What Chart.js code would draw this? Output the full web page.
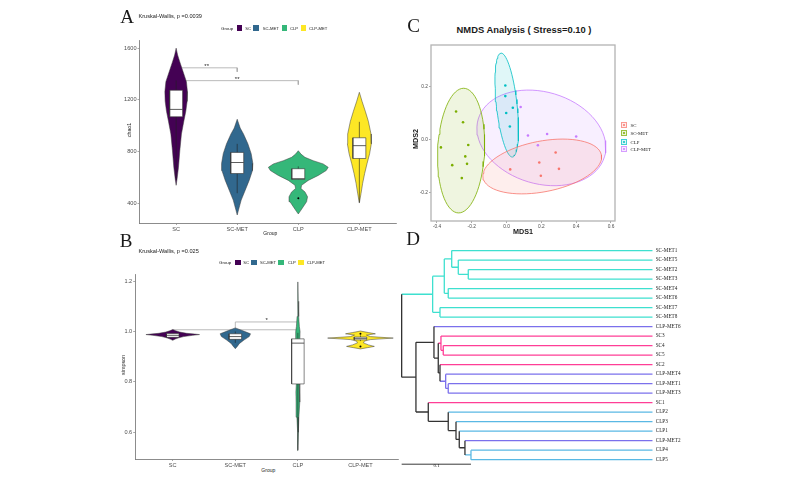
<!DOCTYPE html>
<html><head><meta charset="utf-8">
<script src="https://cdn.jsdelivr.net/npm/chart.js@4.4.1/dist/chart.umd.min.js"></script>
<style>
html,body{margin:0;padding:0;background:#fff;}
#wrap{position:relative;width:800px;height:482px;overflow:hidden;background:#fff;}
#wrap canvas{position:absolute;}
.t{position:absolute;white-space:nowrap;line-height:1;color:#1a1a1a;}
.sq{position:absolute;box-sizing:border-box;}
</style></head><body><div id="wrap"></div>
<script>
/* ================= DATA ================= */
const groups = ['SC', 'SC-MET', 'CLP', 'CLP-MET'];
const groupColors = ['#440154', '#31688E', '#35B779', '#FDE725'];

// ---- Panel A : chao1 ----
const chaoTicks = [400, 800, 1200, 1600];
const chaoLevels = [
  [1600,1547,1493,1417,1341,1265,1189,1112,1036,937,808,678,594,541],
  [1051,983,937,861,785,709,655,579,503,427,350,312],
  [808,782,757,731,706,680,655,617,579,541,516,490,452,414,376,338,320],
  [1259,1189,1112,1036,937,861,785,709,632,556,480,404]
];
const chaoDensity = [
  [0,0.05,0.123,0.233,0.343,0.377,0.367,0.323,0.257,0.177,0.123,0.077,0.033,0],
  [0,0.1,0.21,0.357,0.467,0.523,0.51,0.4,0.267,0.133,0.043,0],
  [0,0.09,0.223,0.5,0.833,1,0.933,0.667,0.333,0.11,0.09,0.223,0.31,0.277,0.167,0.057,0],
  [0,0.09,0.2,0.3,0.39,0.4,0.343,0.257,0.177,0.11,0.057,0]
];
// [lower whisker, Q1, median, Q3, upper whisker]
const chaoBox = [[580,1070,1127,1275,1350],[480,632,717,795,861],[587,587,592,669,687],[410,748,847,908,1031]];
const chaoOutliers = [[], [], [442], []];
// [group from, group to, bracket level, drop at from, drop at to, label]
const chaoBrackets = [[1,2,1448,1417,1417,'**'],[1,3,1349,1318,1318,'**']];

// ---- Panel B : simpson ----
const simpTicks = [0.6, 0.8, 1.0, 1.2];
const simpTickLabels = ['0.6', '0.8', '1.0', '1.2'];
const simpLevels = [
  [1.008,1.003,0.998,0.993,0.990,0.988,0.985,0.980,0.975,0.970,0.965],
  [1.0145,1.004,0.991,0.980,0.967,0.952,0.941,0.932],
  [1.197,1.12,1.06,1.02,1.0,0.97,0.9,0.82,0.76,0.72,0.66,0.6,0.527],
  [1.002,0.996,0.991,0.986,0.980,0.974,0.968,0.962,0.955,0.947,0.941,0.936,0.931]
];
const simpDensity = [
  [0,0.091,0.212,0.424,0.667,0.818,0.606,0.333,0.182,0.076,0],
  [0,0.212,0.464,0.424,0.273,0.121,0.061,0],
  [0,0.009,0.024,0.045,0.067,0.061,0.03,0.036,0.061,0.055,0.03,0.015,0],
  [0,0.242,0.455,0.182,0.303,1,0.303,0.121,0.091,0.242,0.424,0.212,0]
];
const simpBox = [[0.977,0.977,0.985,0.992,0.992],[0.955,0.969,0.980,0.991,1.0],[0.53,0.792,0.954,0.971,0.995],[0.962,0.967,0.973,0.978,0.985]];
const simpOutliers = [[], [], [], [0.991, 0.941]];
const simpBrackets = [[2,3,1.038,1.0145,1.007,'*'],[1,3,1.007,1.007,1.007,'']];

// ---- Panel C : NMDS ----
const nmdsGroups = ['SC', 'SC-MET', 'CLP', 'CLP-MET'];
const nmdsColors = ['#F8766D', '#7CAE00', '#00BFC4', '#C77CFF'];
const nmdsXTicks = [-0.4, -0.2, 0.0, 0.2, 0.4, 0.6];
const nmdsXLabels = ['-0.4', '-0.2', '0.0', '0.2', '0.4', '0.6'];
const nmdsYTicks = [-0.2, 0.0, 0.2];
const nmdsYLabels = ['-0.2', '0.0', '0.2'];
const nmdsSC     = [[0.282,-0.049],[0.188,-0.087],[0.301,-0.111],[0.021,-0.113],[0.197,-0.137]];
const nmdsSCMET  = [[-0.29,0.106],[-0.25,0.065],[-0.22,-0.021],[-0.377,-0.030],[-0.237,-0.064],[-0.227,-0.092],[-0.312,-0.097],[-0.257,-0.146]];
const nmdsCLP    = [[-0.007,0.204],[-0.007,0.164],[0.036,0.12],[-0.002,0.1],[0.019,0.049]];
const nmdsCLPMET = [[0.081,0.123],[0.123,0.015],[0.233,0.021],[0.4,0.011],[0.18,-0.022]];
// ellipse: [centre x, centre y, axis1 x, axis1 y, axis2 x, axis2 y]
const nmdsEllipses = [
  [0.205,-0.102, 0.340,0.0434, 0.028,-0.094],
  [-0.261,-0.042, 0.0142,0.2355, 0.1347,0],
  [0.001,0.130, -0.0332,0.1963, 0.059,0.0043],
  [0.2,0.006, 0.3625,-0.0714, -0.0756,-0.166]
];

// ---- Panel D : dendrogram ----
const leafLabels = ['SC-MET1','SC-MET5','SC-MET2','SC-MET3','SC-MET4','SC-MET6','SC-MET7','SC-MET8',
  'CLP-MET6','SC3','SC4','SC5','SC2','CLP-MET4','CLP-MET1','CLP-MET3','SC1',
  'CLP2','CLP3','CLP1','CLP-MET2','CLP4','CLP5'];
const leafDepth = 0.3622;
// merges: [child a, child b, node depth]; ids 0..22 leaves, 23.. merged nodes in order
const merges = [
  [2,3,0.0961],[1,23,0.0817],[0,24,0.0722],[4,5,0.0672],[25,26,0.0615],[6,7,0.0553],[27,28,0.0447],
  [10,11,0.0600],[9,30,0.0567],[14,15,0.0672],[13,32,0.0635],[12,33,0.0553],[31,34,0.0528],[8,35,0.0466],
  [21,22,0.1000],[20,37,0.0913],[19,38,0.0831],[18,39,0.0784],[17,40,0.0672],[16,41,0.0384],
  [36,42,0.0206],[29,43,0]
];
const dendroColors = {'SC':'#FF3E96','SC-MET':'#3EE0CF','CLP':'#5AB8E4','CLP-MET':'#7B70EC'};
const scaleBar = [0, 0.1, 22.48];

/* ================= HELPERS ================= */
const wrap = document.getElementById('wrap');
const SANS = '"Liberation Sans", Arial, sans-serif';
const SERIF = '"Liberation Serif", "Times New Roman", serif';

function T(x, y, s, font, opts = {}) {
  const d = document.createElement('div');
  d.className = 't'; d.textContent = s; d.style.font = font;
  d.style.left = x + 'px'; d.style.top = y + 'px';
  const tx = opts.align === 'left' ? '0' : '-50%';
  d.style.transform = `translate(${tx},-50%)` + (opts.rot ? ' rotate(-90deg)' : '');
  if (opts.color) d.style.color = opts.color;
  wrap.appendChild(d);
}
function SQ(x, y, w, h, css) {
  const d = document.createElement('div'); d.className = 'sq';
  d.style.left = x + 'px'; d.style.top = y + 'px'; d.style.width = w + 'px'; d.style.height = h + 'px';
  d.style.cssText += css; wrap.appendChild(d); return d;
}
function mkChart(left, top, w, h, cfg) {
  const cv = document.createElement('canvas');
  cv.width = w; cv.height = h;
  Object.assign(cv.style, {left: left + 'px', top: top + 'px', width: w + 'px', height: h + 'px'});
  wrap.appendChild(cv);
  return new Chart(cv, cfg);
}
function axis(pos, min, max, ticks, labels, size, fontSize, extra = {}) {
  const horiz = pos === 'bottom' || pos === 'top';
  return Object.assign({
    type: 'linear', position: pos, min, max,
    afterBuildTicks: s => { s.ticks = ticks.map(v => ({value: v})); },
    afterFit: s => { if (horiz) s.height = size; else s.width = size; },
    ticks: {callback: (v, i) => labels[i], font: {family: SANS, size: fontSize}, color: '#4d4d4d',
            padding: 1, autoSkip: false, maxRotation: 0, minRotation: 0},
    grid: {drawOnChartArea: false, tickLength: 2, color: '#6e6e6e', lineWidth: 0.6},
    border: {display: true, color: '#6e6e6e', width: 0.8}
  }, extra);
}
function line(data, color, w, order) {
  return {data, borderColor: color, borderWidth: w, fill: false, pointRadius: 0, order};
}
const baseOpts = {responsive: false, animation: false, events: [],
  plugins: {legend: {display: false}, tooltip: {enabled: false}},
  elements: {point: {radius: 0}, line: {tension: 0}}};

function violinPanel(levels, dens, maxHalf, box, boxHalf, outliers, brackets) {
  const ds = [];
  brackets.forEach(b => ds.push(line([{x:b[0],y:b[3]},{x:b[0],y:b[2]},{x:b[1],y:b[2]},{x:b[1],y:b[4]}], '#a8a8a8', 0.8, 6)));
  levels.forEach((lv, g) => {
    const c = g + 1;
    const r = lv.map((v, i) => ({x: c + dens[g][i] * maxHalf, y: v}));
    const l = lv.map((v, i) => ({x: c - dens[g][i] * maxHalf, y: v})).reverse();
    ds.push({data: r.concat(l, [r[0]]), borderColor: '#3a3a3a', borderWidth: 0.5,
             backgroundColor: groupColors[g], fill: 'shape', pointRadius: 0, order: 4});
    const [lo, q1, md, q3, hi] = box[g];
    ds.push(line([{x:c,y:lo},{x:c,y:hi}], '#222', 0.6, 3));
    ds.push({data: [{x:c-boxHalf,y:q1},{x:c+boxHalf,y:q1},{x:c+boxHalf,y:q3},{x:c-boxHalf,y:q3},{x:c-boxHalf,y:q1}],
             borderColor: '#333', borderWidth: 0.6, backgroundColor: '#ffffff', fill: 'shape', pointRadius: 0, order: 2});
    ds.push(line([{x:c-boxHalf,y:md},{x:c+boxHalf,y:md}], '#333', 0.8, 1));
    if (outliers[g].length) ds.push({data: outliers[g].map(v => ({x: c, y: v})), showLine: false,
             pointRadius: 1, pointBackgroundColor: '#000', pointBorderWidth: 0, order: 0});
  });
  return ds;
}
function legendRow(x0, y, pos) {
  T(pos[0], y, 'Group', `4.4px ${SANS}`, {align: 'left'});
  groups.forEach((g, i) => {
    SQ(pos[1 + i * 2], y - 2.7, 5.5, 5.5, `background:${groupColors[i]};`);
    T(pos[2 + i * 2], y, g, `4.2px ${SANS}`, {align: 'left'});
  });
}

/* ================= PANEL A ================= */
const AL = 120, AT = 36;
const chartA = mkChart(AL, AT, 280, 195, {
  type: 'line',
  data: {datasets: violinPanel(chaoLevels, chaoDensity, 0.49, chaoBox, 0.106, chaoOutliers, chaoBrackets)},
  options: Object.assign({}, baseOpts, {indexAxis: 'y',
    layout: {padding: {top: 2, right: 3, left: 0, bottom: 0}},
    scales: {x: axis('bottom', 0.4, 4.6, [1,2,3,4], groups, 8, 5.6),
             y: axis('left', 250, 1660, chaoTicks, chaoTicks.map(String), 19.5, 5.6)}})
});
chaoBrackets.forEach(b => {
  T(AL + chartA.scales.x.getPixelForValue((b[0] + b[1]) / 2), AT + chartA.scales.y.getPixelForValue(b[2]) - 1.5, b[5], `6px ${SANS}`);
});
T(127, 17, 'A', `19px ${SERIF}`);
T(138.5, 15.7, 'Kruskal-Wallis, p =0.0039', `5.6px ${SANS}`, {align: 'left'});
legendRow(0, 27.7, [221, 236.7, 245.3, 253.3, 262.7, 281.7, 290, 300.7, 309]);
T(129.3, 130, 'chao1', `5.2px ${SANS}`, {rot: true});
T(270.3, 233.3, 'Group', `5px ${SANS}`);

/* ================= PANEL B ================= */
const BL = 120, BT = 270;
const chartB = mkChart(BL, BT, 282, 197, {
  type: 'line',
  data: {datasets: violinPanel(simpLevels, simpDensity, 0.524, simpBox, 0.1, simpOutliers, simpBrackets)},
  options: Object.assign({}, baseOpts, {indexAxis: 'y',
    layout: {padding: {top: 2, right: 2.2, left: 0, bottom: 0}},
    scales: {x: axis('bottom', 0.4, 4.6, [1,2,3,4], groups, 8, 5.6),
             y: axis('left', 0.494, 1.227, simpTicks, simpTickLabels, 15.2, 5.6)}})
});
simpBrackets.forEach(b => {
  if (b[5]) T(BL + chartB.scales.x.getPixelForValue((b[0] + b[1]) / 2), BT + chartB.scales.y.getPixelForValue(b[2]) - 1.5, b[5], `6px ${SANS}`);
});
T(126, 241, 'B', `19px ${SERIF}`);
T(138.5, 250.7, 'Kruskal-Wallis, p =0.025', `5.6px ${SANS}`, {align: 'left'});
legendRow(0, 262.3, [219, 235, 243.3, 251, 260, 278.3, 287.7, 298.3, 306.7]);
T(123.3, 365, 'simpson', `5.4px ${SANS}`, {rot: true});
T(268.3, 470, 'Group', `5px ${SANS}`);

/* ================= PANEL C ================= */
function hexA(hex, a) {
  const n = parseInt(hex.slice(1), 16);
  return `rgba(${n >> 16},${(n >> 8) & 255},${n & 255},${a})`;
}
const nmdsPoints = [nmdsSC, nmdsSCMET, nmdsCLP, nmdsCLPMET];
const cDatasets = [];
nmdsEllipses.forEach((e, g) => {
  const pts = [];
  for (let k = 0; k <= 72; k++) {
    const t = k / 72 * Math.PI * 2;
    pts.push({x: e[0] + e[2] * Math.cos(t) + e[4] * Math.sin(t), y: e[1] + e[3] * Math.cos(t) + e[5] * Math.sin(t)});
  }
  cDatasets.push({data: pts, borderColor: nmdsColors[g], borderWidth: 0.8,
    backgroundColor: hexA(nmdsColors[g], 0.12), fill: 'shape', pointRadius: 0, order: 3});
});
nmdsPoints.forEach((p, g) => {
  cDatasets.push({data: p.map(v => ({x: v[0], y: v[1]})), showLine: false, pointRadius: 1.3,
    pointBackgroundColor: nmdsColors[g], pointBorderWidth: 0, order: 0});
});
const framePlugin = {id: 'frame', beforeDatasetsDraw(c) {
  const a = c.chartArea, x = c.ctx; x.save(); x.strokeStyle = '#b3b3b3'; x.lineWidth = 1.3;
  x.strokeRect(a.left, a.top, a.right - a.left, a.bottom - a.top); x.restore(); }};
const chartC = mkChart(413, 41, 206, 187, {
  type: 'line', data: {datasets: cDatasets}, plugins: [framePlugin],
  options: Object.assign({}, baseOpts, {indexAxis: 'y',
    layout: {padding: {top: 2, right: 2, left: 0, bottom: 0}},
    scales: {x: axis('bottom', -0.434, 0.623, nmdsXTicks, nmdsXLabels, 7, 4.8, {border: {display: false}}),
             y: axis('left', -0.308, 0.357, nmdsYTicks, nmdsYLabels, 18, 4.8, {border: {display: false}})}})
});
T(413.5, 26, 'C', `19px ${SERIF}`);
T(524, 29.3, 'NMDS Analysis ( Stress=0.10 )', `bold 9.4px ${SANS}`);
T(415, 139, 'MDS2', `bold 7.2px ${SANS}`, {rot: true});
T(523, 230.7, 'MDS1', `bold 7.2px ${SANS}`);
[125, 133.3, 141.7, 149].forEach((y, i) => {
  SQ(621, y - 2.9, 5.8, 5.8, `border:0.6px solid ${hexA(nmdsColors[i], 0.7)};background:${hexA(nmdsColors[i], 0.15)};`);
  SQ(622.9, y - 1, 2, 2, `background:${nmdsColors[i]};border-radius:50%;`);
  T(630.5, y, nmdsGroups[i], `4.8px ${SERIF}`, {align: 'left'});
});

/* ================= PANEL D ================= */
const grpOf = s => s.replace(/\d+$/, '');
const nodes = leafLabels.map((l, i) => ({x: leafDepth, y: i, grp: grpOf(l)}));
const dDatasets = [];
merges.forEach(m => {
  const a = nodes[m[0]], b = nodes[m[1]];
  const grp = a.grp && a.grp === b.grp ? a.grp : null;
  const node = {x: m[2], y: (a.y + b.y) / 2, grp};
  [a, b].forEach(ch => dDatasets.push(line([{x: ch.x, y: ch.y}, {x: m[2], y: ch.y}], ch.grp ? dendroColors[ch.grp] : '#333', 1.3, 1)));
  dDatasets.push(line([{x: m[2], y: a.y}, {x: m[2], y: b.y}], grp ? dendroColors[grp] : '#333', 1.3, 0));
  nodes.push(node);
});
dDatasets.push(line([{x: scaleBar[0], y: scaleBar[2]}, {x: scaleBar[1], y: scaleBar[2]}], '#222', 0.9, 0));
const chartD = mkChart(395, 235, 335, 245, {
  type: 'line', data: {datasets: dDatasets},
  options: Object.assign({}, baseOpts, {
    layout: {padding: {top: 2.45, right: 0, left: 3.2, bottom: 1.2}},
    scales: {
      x: {type: 'linear', min: -0.005, max: leafDepth, display: false},
      y: {type: 'linear', min: -1, max: 23.5, reverse: true, position: 'right',
          afterBuildTicks: s => { s.ticks = leafLabels.map((_, i) => ({value: i})); },
          afterFit: s => { s.width = 77.3; },
          ticks: {callback: (v, i) => leafLabels[i], font: {family: SERIF, size: 5.2}, color: '#222', padding: 3, autoSkip: false},
          grid: {display: false, drawTicks: false}, border: {display: false}}
    }})
});
T(413, 238.7, 'D', `19px ${SERIF}`);
T(436.7, 465, '0.1', `5px ${SERIF}`);
</script></body></html>
